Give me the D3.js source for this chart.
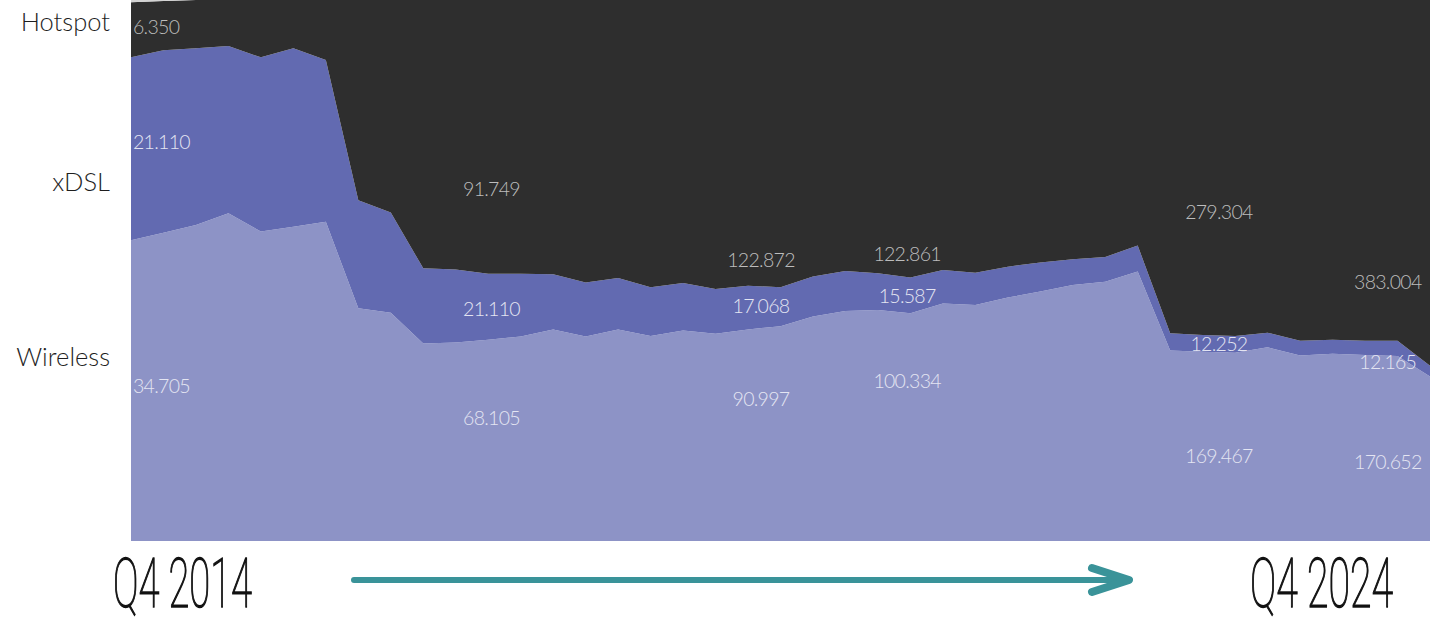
<!DOCTYPE html>
<html>
<head>
<meta charset="utf-8">
<script src="https://cdn.jsdelivr.net/npm/d3@7"></script>
<style>
  body { margin: 0; background: #ffffff; }
  svg { display: block; }
</style>
</head>
<body>
<script>
// quarters from Q4 2014 to Q4 2024
let quarters = [
  "Q4 2014",
  "Q1 2015","Q2 2015","Q3 2015","Q4 2015",
  "Q1 2016","Q2 2016","Q3 2016","Q4 2016",
  "Q1 2017","Q2 2017","Q3 2017","Q4 2017",
  "Q1 2018","Q2 2018","Q3 2018","Q4 2018",
  "Q1 2019","Q2 2019","Q3 2019","Q4 2019",
  "Q1 2020","Q2 2020","Q3 2020","Q4 2020",
  "Q1 2021","Q2 2021","Q3 2021","Q4 2021",
  "Q1 2022","Q2 2022","Q3 2022","Q4 2022",
  "Q1 2023","Q2 2023","Q3 2023","Q4 2023",
  "Q1 2024","Q2 2024","Q3 2024","Q4 2024"
];

// share of total (%)
let wireless = [55.6, 57.0, 58.4, 60.6, 57.2, 58.1, 59.0, 43.0, 42.2, 36.5, 36.7, 37.2, 37.8, 39.1, 37.8, 39.1, 37.9, 38.9, 38.3, 39.1, 39.7, 41.5, 42.5, 42.7, 42.1, 43.9, 43.6, 45.0, 46.1, 47.3, 47.9, 49.8, 35.2, 35.0, 34.8, 35.8, 34.3, 34.6, 34.4, 34.2, 30.4];
let xdsl = [33.8, 33.7, 32.7, 30.9, 32.2, 33.0, 29.9, 20.0, 18.5, 13.9, 13.5, 12.2, 11.6, 10.2, 10.0, 9.5, 9.0, 8.8, 8.3, 8.1, 7.2, 7.4, 7.4, 6.8, 6.6, 6.2, 6.0, 5.7, 5.4, 4.8, 4.6, 4.8, 3.2, 3.1, 3.1, 2.7, 2.7, 2.6, 2.6, 2.8, 2.0];
let fibre = [10.2, 9.1, 8.9, 8.5, 10.6, 8.9, 11.1, 37.0, 39.3, 49.6, 49.8, 50.6, 50.6, 50.7, 52.2, 51.4, 53.1, 52.3, 53.4, 52.8, 53.1, 51.1, 50.1, 50.5, 51.3, 49.9, 50.4, 49.3, 48.5, 47.9, 47.5, 45.4, 61.6, 61.9, 62.1, 61.5, 63.0, 62.8, 63.0, 63.0, 67.6];
let hotspot = [0.4, 0.2, 0, 0, 0, 0, 0, 0, 0, 0, 0, 0, 0, 0, 0, 0, 0, 0, 0, 0, 0, 0, 0, 0, 0, 0, 0, 0, 0, 0, 0, 0, 0, 0, 0, 0, 0, 0, 0, 0, 0];

// value labels (absolute numbers) and where along the time axis they sit
let labelQuarter = [0, 11.1, 19.4, 23.9, 33.5, 38.7];
let fibreLabels = ["6.350", "91.749", "122.872", "122.861", "279.304", "383.004"];
let xdslLabels = ["21.110", "21.110", "17.068", "15.587", "12.252", "12.165"];
let wirelessLabels = ["34.705", "68.105", "90.997", "100.334", "169.467", "170.652"];

let seriesNames = ["Hotspot", "xDSL", "Wireless"];

let width = 1439;
let height = 619;

let rows = quarters.map(function(q, i){
  return {quarter: q, wireless: wireless[i], xdsl: xdsl[i], fibre: fibre[i], hotspot: hotspot[i]};
});

let keys = ["wireless", "xdsl", "fibre", "hotspot"];
let colors = {wireless: "#8d93c6", xdsl: "#626ab1", fibre: "#2e2e2e", hotspot: "#d2d2d2"};

let stack = d3.stack().keys(keys).offset(d3.stackOffsetExpand);
let layers = stack(rows);

let x = d3.scaleLinear().domain([0, quarters.length - 1]).range([131, 1430]);
let y = d3.scaleLinear().domain([0, 1]).range([541, 0]);

let area = d3.area()
  .x(function(d, i){ return x(i); })
  .y0(function(d){ return y(d[0]); })
  .y1(function(d){ return y(d[1]); })
;

let viz = d3.select("body")
  .append("svg")
    .attr("width", width)
    .attr("height", height)
    .style("background-color", "white")
;

viz.selectAll(".layer").data(layers).enter()
  .append("path")
    .attr("class", "layer")
    .attr("d", area)
    .attr("fill", function(d){ return colors[d.key]; })
;

// band top/bottom (in px) for a layer at a fractional quarter
function bandAt(layer, q){
  let i0 = Math.floor(q);
  let i1 = Math.min(i0 + 1, layer.length - 1);
  let t = q - i0;
  let lo = layer[i0][0] + (layer[i1][0] - layer[i0][0]) * t;
  let hi = layer[i0][1] + (layer[i1][1] - layer[i0][1]) * t;
  return [y(hi), y(lo)];
}

// where inside the band each label sits (0 = band top, 1 = band bottom)
let labelSpots = [
  {key: "fibre", texts: fibreLabels, color: "#bdbdbd", f: [0.445, 0.69, 0.908, 0.916, 0.632, 0.826]},
  {key: "xdsl", texts: xdslLabels, color: "#e4e5f2", f: [0.461, 0.54, 0.48, 0.514, 0.51, 1.43]},
  {key: "wireless", texts: wirelessLabels, color: "#e4e5f2", f: [0.483, 0.39, 0.333, 0.30, 0.55, 0.574]}
];

let valueLabels = [];
labelSpots.forEach(function(s){
  let layer = layers[keys.indexOf(s.key)];
  s.texts.forEach(function(t, j){
    let q = labelQuarter[j];
    let b = bandAt(layer, q);
    valueLabels.push({
      text: t,
      x: j == 0 ? x(q) + 2 : x(q),
      y: b[0] + s.f[j] * (b[1] - b[0]),
      anchor: j == 0 ? "start" : "middle",
      color: s.color
    });
  });
});

viz.selectAll(".vlabel").data(valueLabels).enter()
  .append("text")
    .attr("class", "vlabel")
    .attr("x", function(d){ return d.x; })
    .attr("y", function(d){ return d.y; })
    .attr("dy", "0.36em")
    .attr("text-anchor", function(d){ return d.anchor; })
    .attr("fill", function(d){ return d.color; })
    .style("font-family", "Lato, 'Open Sans', sans-serif")
    .style("font-weight", 300)
    .style("font-size", "19.5px")
    .style("letter-spacing", "-0.7px")
    .text(function(d){ return d.text; })
;

// series names on the left
let nameY = [22, 182, 357];
viz.selectAll(".sname").data(seriesNames).enter()
  .append("text")
    .attr("class", "sname")
    .attr("x", 110)
    .attr("y", function(d, i){ return nameY[i]; })
    .attr("dy", "0.36em")
    .attr("text-anchor", "end")
    .attr("fill", "#1e1e1e")
    .style("font-family", "Lato, 'Open Sans', sans-serif")
    .style("font-weight", 300)
    .style("font-size", "25.5px")
    .text(function(d){ return d; })
;

// start / end quarter, squeezed to a condensed look
let ends = [
  {text: quarters[0], x: 113, w: 139},
  {text: quarters[quarters.length - 1], x: 1250, w: 143}
];
let qlabels = viz.selectAll(".qlabel").data(ends).enter()
  .append("text")
    .attr("class", "qlabel")
    .attr("x", 0)
    .attr("y", 0)
    .attr("fill", "#111111")
    .attr("stroke", "#111111")
    .attr("stroke-width", 1.4)
    .style("font-family", "Roboto, sans-serif")
    .style("font-weight", 100)
    .style("font-size", "68px")
    .text(function(d){ return d.text; })
;
qlabels.attr("transform", function(d){
  let len = this.getComputedTextLength();
  return "translate(" + d.x + ",607) scale(" + (d.w / len) + ",1)";
});

// arrow
viz.append("line")
  .attr("x1", 354).attr("y1", 580)
  .attr("x2", 1126).attr("y2", 580)
  .attr("stroke", "#3a9399")
  .attr("stroke-width", 6)
  .attr("stroke-linecap", "round")
;
viz.append("polyline")
  .attr("points", "1092,568 1129,580 1092,592")
  .attr("fill", "none")
  .attr("stroke", "#3a9399")
  .attr("stroke-width", 8)
  .attr("stroke-linecap", "round")
  .attr("stroke-linejoin", "round")
;
</script>
</body>
</html>
